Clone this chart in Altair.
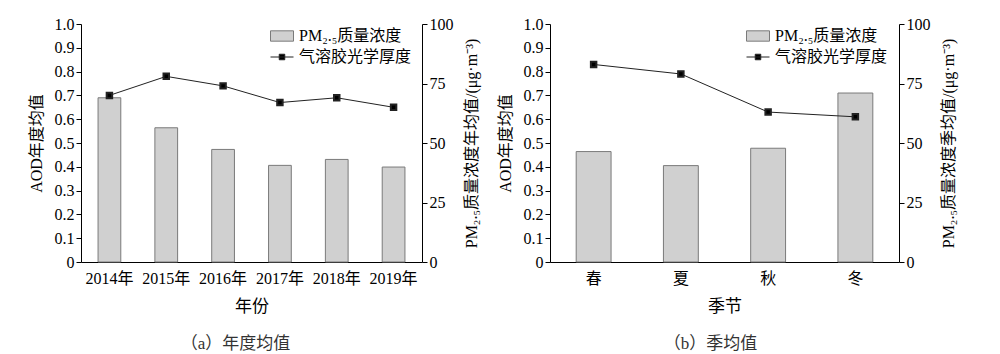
import altair as alt
import pandas as pd

# ---- data ----
years = ["2014年", "2015年", "2016年", "2017年", "2018年", "2019年"]
pm_year = [69.0, 56.4, 47.3, 40.6, 43.1, 39.9]
aod_year = [0.70, 0.78, 0.74, 0.67, 0.69, 0.65]

seasons = ["春", "夏", "秋", "冬"]
pm_season = [46.4, 40.5, 47.8, 71.0]
aod_season = [0.83, 0.79, 0.63, 0.61]

left_ticks = [0, 0.1, 0.2, 0.3, 0.4, 0.5, 0.6, 0.7, 0.8, 0.9, 1.0]
right_ticks = [0, 25, 50, 75, 100]

PM_LABEL = "PM₂.₅质量浓度"
AOD_LABEL = "气溶胶光学厚度"

FONT = "Liberation Serif, Noto Sans CJK SC"
RECT_PATH = "M-1,-0.45H1V0.45H-1Z"
LINE_PATH = "M-1,0H1M-0.24,-0.24H0.24V0.24H-0.24Z"


def panel(cats, pm, aod, xtitle, right_title, caption, width, legend_x, cap_dx):
    df = pd.DataFrame({"cat": cats, "pm": pm, "aod": aod,
                       "s1": PM_LABEL, "s2": AOD_LABEL})
    x = alt.X("cat:N", sort=cats, title=xtitle,
              scale=alt.Scale(paddingInner=0.6, paddingOuter=0.3),
              axis=alt.Axis(labelAngle=0, ticks=False, domainColor="black",
                            labelFontSize=16, labelPadding=8, labelColor="black",
                            titleFontSize=17, titlePadding=12, titleColor="black",
                            titleFontWeight="normal"))
    bars = alt.Chart(df).mark_bar(stroke="#7a7a7a", strokeWidth=1).encode(
        x=x,
        y=alt.Y("pm:Q", scale=alt.Scale(domain=[0, 100]),
                axis=alt.Axis(orient="right", values=right_ticks, title=right_title,
                              grid=False, domainColor="black", tickColor="black",
                              tickSize=5, labelPadding=2, labelFontSize=16,
                              labelColor="black", titleFontSize=16, titleColor="black",
                              titleFontWeight="normal", titleAngle=270,
                              titleBaseline="top", titlePadding=10)),
        fill=alt.Fill("s1:N", scale=alt.Scale(range=["#d0d0d0"]),
                      legend=alt.Legend(title=None, orient="none", legendX=legend_x,
                                        legendY=0, symbolType=RECT_PATH, symbolSize=529,
                                        symbolStrokeColor="#7a7a7a", symbolStrokeWidth=1,
                                        labelFontSize=16, labelFont=FONT,
                                        labelColor="black", labelOffset=5)),
    )
    line = alt.Chart(df).mark_line(
        strokeWidth=1,
        point=alt.OverlayMarkDef(shape="square", filled=True, fill="black", size=30, opacity=1),
    ).encode(
        x=x,
        y=alt.Y("aod:Q", scale=alt.Scale(domain=[0, 1]),
                axis=alt.Axis(orient="left", values=left_ticks, title="AOD年度均值",
                              labelExpr="datum.value == 0 ? '0' : format(datum.value, '.1f')",
                              grid=False, domainColor="black", tickColor="black",
                              tickSize=5, labelPadding=2, labelFontSize=16,
                              labelColor="black", titleFontSize=16, titleColor="black",
                              titleFontWeight="normal", titlePadding=10)),
        stroke=alt.Stroke("s2:N", scale=alt.Scale(range=["#222222"]),
                          legend=alt.Legend(title=None, orient="none", legendX=legend_x,
                                            legendY=21, symbolType=LINE_PATH, symbolSize=529,
                                            symbolFillColor="black", symbolStrokeColor="#222222",
                                            symbolStrokeWidth=1,
                                            labelFontSize=16, labelFont=FONT,
                                            labelColor="black", labelOffset=5)),
    )
    return alt.layer(bars, line).resolve_scale(y="independent").properties(
        width=width, height=238,
        title=alt.TitleParams(caption, orient="bottom", fontSize=17, font=FONT,
                              fontWeight="normal", color="#333333", offset=22, dx=cap_dx),
    )


left = panel(years, pm_year, aod_year, "年份", "PM₂.₅质量浓度年均值/(μg·m⁻³)",
             "（a）年度均值", 341, 189, -16)
right = panel(seasons, pm_season, aod_season, "季节", "PM₂.₅质量浓度季均值/(μg·m⁻³)",
              "（b）季均值", 349, 196, -14)

chart = alt.hconcat(left, right, spacing=18).resolve_scale(
    x="independent", fill="independent", stroke="independent"
).resolve_legend(fill="independent", stroke="independent").properties(
    padding={"left": 28, "top": 16, "right": 5, "bottom": 2},
    background="white",
).configure(font=FONT).configure_view(stroke=None)

chart.save("out.html", embed_options={"renderer": "svg", "actions": False})
